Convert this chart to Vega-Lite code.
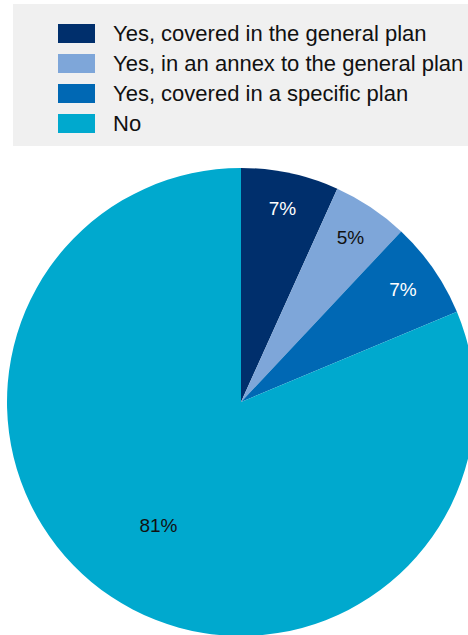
{
  "$schema": "https://vega.github.io/schema/vega-lite/v6.json",
  "width": 454,
  "height": 466,
  "autosize": {"type": "none"},
  "padding": {"left": 14, "top": 169, "right": 0, "bottom": 0},
  "background": "white",
  "data": {
    "values": [
      {"category": "Yes, covered in the general plan", "rank": 1, "share": 6.75, "label": "7%"},
      {"category": "Yes, in an annex to the general plan", "rank": 2, "share": 5.25, "label": "5%"},
      {"category": "Yes, covered in a specific plan", "rank": 3, "share": 6.7, "label": "7%"},
      {"category": "No", "rank": 4, "share": 81.3, "label": "81%"}
    ]
  },
  "encoding": {
    "theta": {"field": "share", "type": "quantitative", "stack": true},
    "order": {"field": "rank", "type": "quantitative"}
  },
  "layer": [
    {
      "mark": {"type": "arc", "outerRadius": 234},
      "encoding": {
        "color": {
          "field": "category",
          "type": "nominal",
          "sort": null,
          "scale": {
            "domain": ["Yes, covered in the general plan", "Yes, in an annex to the general plan", "Yes, covered in a specific plan", "No"],
            "range": ["#002F6C", "#7EA6D9", "#0068B4", "#00A9CE"]
          },
          "legend": {
            "title": null,
            "orient": "none",
            "legendX": -1,
            "legendY": -165,
            "fillColor": "#F0F0F0",
            "padding": 11,
            "symbolType": "M-1,-0.514H1V0.514H-1Z",
            "symbolSize": 1369,
            "symbolStrokeWidth": 0,
            "symbolOpacity": 1,
            "symbolOffset": 34,
            "labelOffset": 18,
            "rowPadding": -5,
            "labelFont": "Liberation Sans, Arial",
            "labelFontSize": 22,
            "labelColor": "#111111",
            "labelLimit": 1000
          }
        }
      }
    },
    {
      "mark": {"type": "text", "font": "Liberation Sans, Arial", "fontSize": 19, "radius": 197},
      "encoding": {
        "text": {"condition": {"test": "datum.rank === 4", "value": ""}, "field": "label", "type": "nominal"},
        "fill": {
          "condition": {"test": "datum.rank === 1 || datum.rank === 3", "value": "white"},
          "value": "#111111"
        }
      }
    },
    {
      "mark": {"type": "text", "font": "Liberation Sans, Arial", "fontSize": 19, "radius": 149, "fill": "#111111"},
      "encoding": {
        "text": {"condition": {"test": "datum.rank !== 4", "value": ""}, "field": "label", "type": "nominal"}
      }
    }
  ]
}
